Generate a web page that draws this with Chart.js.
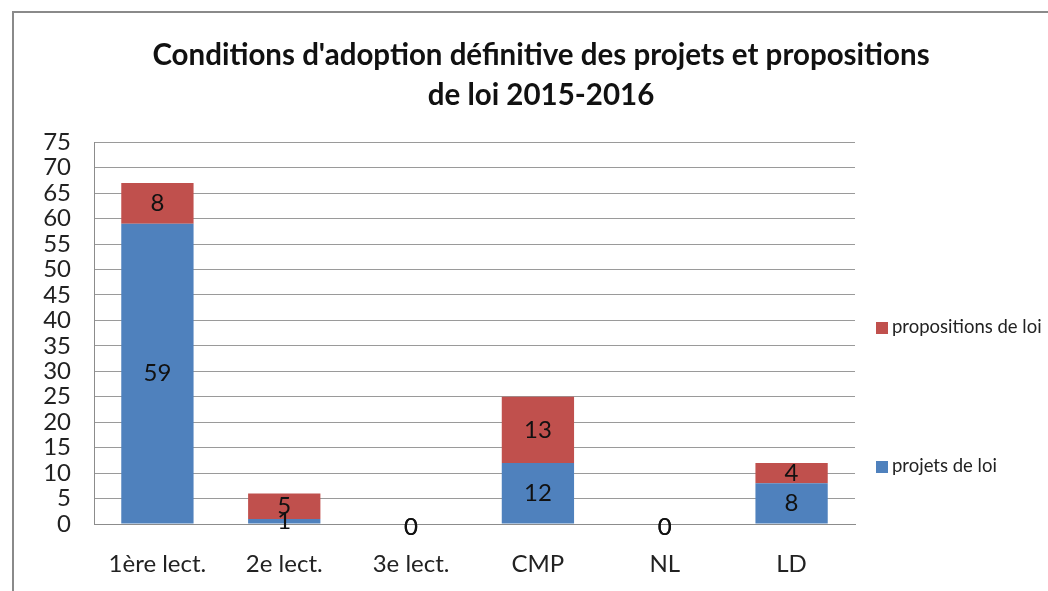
<!DOCTYPE html>
<html>
<head>
<meta charset="utf-8">
<script src="https://cdn.jsdelivr.net/npm/chart.js@4"></script>
<style>
    body { margin: 0; overflow: hidden; background: #fff; }
    #frame { position: absolute; left: 12px; top: 11px; width: 1100px; height: 700px; border: 2px solid #8a8a8a; }
    #wrap { position: absolute; left: 0; top: 0; width: 1048px; height: 591px; }
    .legend { position: absolute; left: 876px; font-family: Lato, "Open Sans", sans-serif; font-size: 18.5px; color: #222; white-space: nowrap; }
    .legend span { display: inline-block; width: 12px; height: 12px; margin-right: 4px; vertical-align: -1px; }
</style>
</head>
<body>
<div id="frame"></div>
<div id="wrap"><canvas id="chart"></canvas></div>
<div class="legend" style="top: 315px;"><span style="background:#C0504D"></span>propositions de loi</div>
<div class="legend" style="top: 454px;"><span style="background:#4F81BD"></span>projets de loi</div>
<script>
const categories = ["1ère lect.", "2e lect.", "3e lect.", "CMP", "NL", "LD"];
const projets = [59, 1, 0, 12, 0, 8];
const propositions = [8, 5, 0, 13, 0, 4];
const titleLines = ["Conditions d'adoption définitive des projets et propositions", "de loi 2015-2016"];

const fontFamily = "Lato, 'Open Sans', sans-serif";

// labels centered in each segment
const valueLabels = {
    id: "valueLabels",
    afterDatasetsDraw(chart) {
        const ctx = chart.ctx;
        ctx.save();
        ctx.font = "24px " + fontFamily;
        ctx.fillStyle = "#111";
        ctx.textAlign = "center";
        ctx.textBaseline = "middle";
        chart.data.datasets.forEach((ds, i) => {
            const meta = chart.getDatasetMeta(i);
            meta.data.forEach((bar, j) => {
                const y = ds.data[j] === 0 ? bar.base + 3 : (bar.y + bar.base) / 2;
                ctx.fillText(ds.data[j], bar.x, y);
            });
        });
        ctx.restore();
    }
};

new Chart(document.getElementById("chart"), {
    type: "bar",
    data: {
        labels: categories,
        datasets: [
            { label: "projets de loi", data: projets, backgroundColor: "#4F81BD" },
            { label: "propositions de loi", data: propositions, backgroundColor: "#C0504D" }
        ]
    },
    options: {
        responsive: true,
        maintainAspectRatio: false,
        animation: false,
        categoryPercentage: 1,
        barPercentage: 0.57,
        layout: { padding: { left: 34, right: 0, top: 0, bottom: 0 } },
        plugins: {
            legend: { display: false },
            tooltip: { enabled: false },
            title: {
                display: true,
                text: titleLines,
                color: "#111",
                font: { family: fontFamily, size: 29.5, weight: "bold", lineHeight: 1.36 },
                padding: { top: 35, bottom: 27 }
            }
        },
        scales: {
            x: {
                stacked: true,
                grid: { display: false },
                border: { display: true, color: "#8c8c8c" },
                ticks: { color: "#222", font: { family: fontFamily, size: 24 }, padding: 18 },
                afterFit: s => { s.height = 67; }
            },
            y: {
                stacked: true,
                min: 0,
                max: 75,
                grid: { color: "#9a9a9a", drawTicks: false },
                border: { display: true, color: "#8c8c8c" },
                ticks: { stepSize: 5, autoSkip: false, color: "#222", font: { family: fontFamily, size: 24 }, padding: 23 },
                afterFit: s => { s.width = 60; }
            },
            y2: {
                position: "right",
                display: true,
                grid: { display: false },
                border: { display: false },
                ticks: { display: false },
                afterFit: s => { s.width = 193; }
            }
        }
    },
    plugins: [valueLabels]
});
</script>
</body>
</html>
